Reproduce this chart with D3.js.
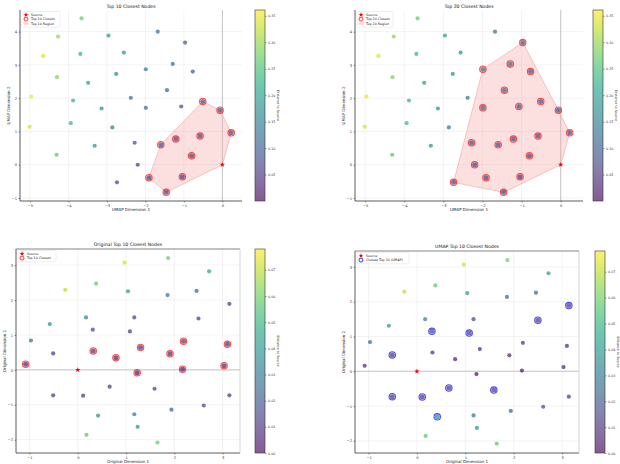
<!DOCTYPE html>
<html>
<head>
<meta charset="utf-8">
<script src="https://cdn.jsdelivr.net/npm/d3@7"></script>
<style>
  body { margin: 0; background: #fff; }
  svg { font-family: "DejaVu Sans", sans-serif; }
</style>
</head>
<body>
<div id="chart"></div>
<script>
// UMAP embedding (top row), source sits at the origin
const umapX = [-3.66,-4.27,-2.96,-1.68,-0.97,-4.66,-3.69,-2.56,-1.29,-1.99,-0.77,-4.30,-2.76,-3.49,-1.44,-4.97,-3.88,-2.38,-3.14,-1.99,-1.07,-0.51,-0.06,-5.01,-3.94,-2.86,0.23,-0.58,-1.21,-1.60,-2.28,-3.32,-4.31,-0.80,-2.20,-1.04,-1.91,-2.74,-1.46];
const umapY = [4.40,3.85,3.88,4.00,3.67,3.27,3.33,3.37,3.03,2.87,2.80,2.63,2.73,2.46,2.24,2.05,1.93,2.01,1.69,1.71,1.75,1.90,1.64,1.14,1.25,1.12,0.96,0.86,0.77,0.60,0.66,0.57,0.30,0.27,0.00,-0.36,-0.39,-0.53,-0.83];
const umapVal = [0.27,0.30,0.20,0.13,0.09,0.34,0.23,0.18,0.12,0.13,0.09,0.29,0.18,0.20,0.12,0.35,0.23,0.13,0.18,0.11,0.08,0.09,0.08,0.34,0.24,0.14,0.08,0.07,0.07,0.08,0.08,0.18,0.26,0.06,0.06,0.05,0.06,0.07,0.06];
const umapTop10 = [21,22,26,27,28,29,33,35,36,38];
const umapTop20 = [21,22,26,27,28,29,33,35,36,38,4,8,9,10,14,19,20,30,34,37];

// original space (bottom row)
const origX = [1.87,0.97,2.72,-0.26,0.38,1.04,1.86,2.46,3.14,-0.58,0.17,1.17,2.50,0.31,1.08,-0.97,2.19,3.10,1.30,0.32,-0.51,1.91,0.79,-1.08,2.17,3.03,1.23,0.66,1.59,-0.51,0.11,3.14,1.94,2.61,0.42,1.17,1.24,0.18,1.65];
const origY = [3.20,3.07,2.82,2.29,2.47,2.25,2.14,2.26,1.89,1.31,1.50,1.50,1.47,1.15,1.10,0.84,0.82,0.73,0.64,0.54,0.47,0.46,0.35,0.16,0.02,0.12,-0.08,-0.48,-0.54,-0.73,-0.74,-0.73,-1.14,-1.02,-1.31,-1.27,-1.63,-1.86,-2.08];
const origVal = [0.060,0.072,0.045,0.070,0.058,0.042,0.026,0.024,0.012,0.040,0.033,0.015,0.012,0.014,0.012,0.026,0.010,0.008,0.008,0.009,0.010,0.007,0.005,0.006,0.004,0.006,0.003,0.012,0.012,0.011,0.010,0.012,0.024,0.015,0.038,0.030,0.040,0.057,0.058];
const origTop10 = [16,17,18,19,21,22,23,24,25,26];
const umapTop10InOrig = [8,12,13,14,20,27,28,29,30,34];

const source = [0, 0];
const umapXTicks = [-5,-4,-3,-2,-1,0], umapYTicks = [-1,0,1,2,3,4];
const origXTicks = [-1,0,1,2,3], origYTicks = [-2,-1,0,1,2,3];
const umapCbarTicks = [0.05,0.10,0.15,0.20,0.25,0.30,0.35];
const origCbarTicks = [0.00,0.01,0.02,0.03,0.04,0.05,0.06,0.07];

const svg = d3.select("#chart").append("svg").attr("width", 620).attr("height", 464);
const defs = svg.append("defs");
let gradId = 0;

function panel(cfg) {
  const x = d3.scaleLinear().domain(cfg.xDom).range([cfg.x0, cfg.x1]);
  const y = d3.scaleLinear().domain(cfg.yDom).range([cfg.y1, cfg.y0]);
  const color = d3.scaleSequential(d3.interpolateViridis).domain(cfg.cDom);
  const g = svg.append("g");

  // grid
  g.append("g").selectAll("line").data(cfg.xTicks).join("line")
    .attr("x1", d => x(d)).attr("x2", d => x(d)).attr("y1", cfg.y0).attr("y2", cfg.y1)
    .attr("stroke", "#ebebeb").attr("stroke-width", 0.6);
  g.append("g").selectAll("line").data(cfg.yTicks).join("line")
    .attr("y1", d => y(d)).attr("y2", d => y(d)).attr("x1", cfg.x0).attr("x2", cfg.x1)
    .attr("stroke", "#ebebeb").attr("stroke-width", 0.6);

  // reference line through the source
  if (cfg.vline) g.append("line").attr("x1", x(0)).attr("x2", x(0)).attr("y1", cfg.y0).attr("y2", cfg.y1)
    .attr("stroke", "#bbb").attr("stroke-width", 0.8);
  if (cfg.hline) g.append("line").attr("y1", y(0)).attr("y2", y(0)).attr("x1", cfg.x0).attr("x2", cfg.x1)
    .attr("stroke", "#bbb").attr("stroke-width", 0.8);

  // hull region
  if (cfg.hull) {
    const pts = cfg.hull.map(i => [x(cfg.xs[i]), y(cfg.ys[i])]);
    pts.push([x(source[0]), y(source[1])]);
    const hull = d3.polygonHull(pts);
    g.append("path").attr("d", "M" + hull.join("L") + "Z")
      .attr("fill", "#f7a6a6").attr("fill-opacity", 0.35)
      .attr("stroke", "#f2b5b5").attr("stroke-width", 0.8);
  }

  // spines
  const ax = g.append("g").attr("stroke-width", 0.8);
  ax.append("line").attr("x1", cfg.x0).attr("x2", cfg.x0).attr("y1", cfg.y0).attr("y2", cfg.y1).attr("stroke", "#333");
  ax.append("line").attr("x1", cfg.x0).attr("x2", cfg.x1).attr("y1", cfg.y1).attr("y2", cfg.y1).attr("stroke", "#333");
  if (cfg.box) {
    ax.append("line").attr("x1", cfg.x0).attr("x2", cfg.x1).attr("y1", cfg.y0).attr("y2", cfg.y0).attr("stroke", "#666");
    ax.append("line").attr("x1", cfg.x1).attr("x2", cfg.x1).attr("y1", cfg.y0).attr("y2", cfg.y1).attr("stroke", "#ccc");
  }

  // ticks
  const xa = d3.axisBottom(x).tickValues(cfg.xTicks).tickSize(1.5).tickPadding(1.5).tickFormat(d3.format("d"));
  const ya = d3.axisLeft(y).tickValues(cfg.yTicks).tickSize(1.5).tickPadding(1.5).tickFormat(d3.format("d"));
  [g.append("g").attr("transform", `translate(0,${cfg.y1})`).call(xa),
   g.append("g").attr("transform", `translate(${cfg.x0},0)`).call(ya)].forEach(a => {
    a.select(".domain").remove();
    a.selectAll("line").attr("stroke", "#333").attr("stroke-width", 0.5);
    a.selectAll("text").attr("font-size", 3.6).attr("fill", "#333").attr("font-family", "DejaVu Sans");
  });

  // points
  const idx = d3.range(cfg.xs.length);
  const ringSet = new Set(cfg.ring);
  g.append("g").selectAll("circle").data(idx).join("circle")
    .attr("cx", i => x(cfg.xs[i])).attr("cy", i => y(cfg.ys[i]))
    .attr("r", i => ringSet.has(i) ? 2.5 : 2.1)
    .attr("fill", i => color(cfg.vals[i])).attr("fill-opacity", 0.7);

  // highlighted rings
  g.append("g").selectAll("circle").data(cfg.ring).join("circle")
    .attr("cx", i => x(cfg.xs[i])).attr("cy", i => y(cfg.ys[i])).attr("r", 3.2)
    .attr("fill", "none").attr("stroke", cfg.ringColor).attr("stroke-width", 1.1).attr("stroke-opacity", 0.7);

  // source star
  g.append("path").attr("d", d3.symbol(d3.symbolStar, 9)())
    .attr("transform", `translate(${x(source[0])},${y(source[1])})`).attr("fill", "red");

  // title and labels
  g.append("text").attr("x", (cfg.x0 + cfg.x1) / 2).attr("y", cfg.titleY).attr("text-anchor", "middle")
    .attr("font-size", 4.6).attr("fill", "#111").text(cfg.title);
  g.append("text").attr("x", (cfg.x0 + cfg.x1) / 2).attr("y", cfg.y1 + 10).attr("text-anchor", "middle")
    .attr("font-size", 4).attr("fill", "#222").text(cfg.xLabel);
  g.append("text").attr("transform", `translate(${cfg.x0 - 10},${(cfg.y0 + cfg.y1) / 2}) rotate(-90)`)
    .attr("text-anchor", "middle").attr("font-size", 4).attr("fill", "#222").text(cfg.yLabel);

  // legend
  const lg = g.append("g").attr("transform", `translate(${cfg.x0 + 2},${cfg.y0 + 1.5})`);
  lg.append("rect").attr("width", cfg.legendW).attr("height", cfg.legend.length * 4.4 + 2.5)
    .attr("rx", 1).attr("fill", "#fff").attr("fill-opacity", 0.85).attr("stroke", "#ddd").attr("stroke-width", 0.5);
  cfg.legend.forEach((e, k) => {
    const cy = 3.2 + k * 4.4;
    if (e.type === "star") lg.append("path").attr("d", d3.symbol(d3.symbolStar, 8)())
      .attr("transform", `translate(4,${cy})`).attr("fill", "red");
    else if (e.type === "ring") lg.append("circle").attr("cx", 4).attr("cy", cy).attr("r", 2)
      .attr("fill", "none").attr("stroke", cfg.ringColor).attr("stroke-width", 0.8);
    else lg.append("rect").attr("x", 1.5).attr("y", cy - 1.3).attr("width", 5).attr("height", 2.6)
      .attr("fill", "#f7a6a6").attr("fill-opacity", 0.45);
    lg.append("text").attr("x", 9).attr("y", cy + 1.2).attr("font-size", 3.3).attr("fill", "#222").text(e.label);
  });

  // colorbar
  const id = "grad" + (gradId++);
  const grad = defs.append("linearGradient").attr("id", id).attr("x1", 0).attr("x2", 0).attr("y1", 1).attr("y2", 0);
  d3.range(0, 1.001, 0.1).forEach(t => grad.append("stop").attr("offset", t)
    .attr("stop-color", d3.interpolateViridis(t)).attr("stop-opacity", 0.65));
  const cy = d3.scaleLinear().domain(cfg.cDom).range([cfg.y1, cfg.y0]);
  g.append("rect").attr("x", cfg.cbX).attr("y", cfg.y0).attr("width", 10).attr("height", cfg.y1 - cfg.y0)
    .attr("fill", `url(#${id})`).attr("stroke", "#333").attr("stroke-width", 0.6);
  const ca = g.append("g").attr("transform", `translate(${cfg.cbX + 10},0)`)
    .call(d3.axisRight(cy).tickValues(cfg.cTicks).tickSize(1.5).tickPadding(1.5).tickFormat(d3.format(".2f")));
  ca.select(".domain").remove();
  ca.selectAll("line").attr("stroke", "#333").attr("stroke-width", 0.5);
  ca.selectAll("text").attr("font-size", 3.3).attr("fill", "#333").attr("font-family", "DejaVu Sans");
  g.append("text").attr("transform", `translate(${cfg.cbX + 22},${(cfg.y0 + cfg.y1) / 2}) rotate(90)`)
    .attr("text-anchor", "middle").attr("font-size", 3.3).attr("fill", "#222").text(cfg.cLabel);
}

panel({ title: "Top 10 Closest Nodes", titleY: 7.5, x0: 20, x1: 242, y0: 10, y1: 201,
  xDom: [-5.26, 0.51], yDom: [-1.09, 4.65], xs: umapX, ys: umapY, vals: umapVal,
  xTicks: umapXTicks, yTicks: umapYTicks, hull: umapTop10, ring: umapTop10, ringColor: "red", vline: true,
  xLabel: "UMAP Dimension 1", yLabel: "UMAP Dimension 2",
  legend: [{type: "star", label: "Source"}, {type: "ring", label: "Top 10 Closest"}, {type: "patch", label: "Top 10 Region"}], legendW: 38,
  cDom: [0, 0.361], cTicks: umapCbarTicks, cbX: 255, cLabel: "Distance to Source" });

panel({ title: "Top 20 Closest Nodes", titleY: 7.5, x0: 355, x1: 583, y0: 10, y1: 201,
  xDom: [-5.26, 0.57], yDom: [-1.09, 4.65], xs: umapX, ys: umapY, vals: umapVal,
  xTicks: umapXTicks, yTicks: umapYTicks, hull: umapTop20, ring: umapTop20, ringColor: "red", vline: true,
  xLabel: "UMAP Dimension 1", yLabel: "UMAP Dimension 2",
  legend: [{type: "star", label: "Source"}, {type: "ring", label: "Top 20 Closest"}, {type: "patch", label: "Top 20 Region"}], legendW: 36,
  cDom: [0, 0.361], cTicks: umapCbarTicks, cbX: 593, cLabel: "Distance to Source" });

panel({ title: "Original Top 10 Closest Nodes", titleY: 246, x0: 16, x1: 240, y0: 249, y1: 453,
  xDom: [-1.28, 3.36], yDom: [-2.38, 3.46], xs: origX, ys: origY, vals: origVal,
  xTicks: origXTicks, yTicks: origYTicks, ring: origTop10, ringColor: "red", hline: true, box: true,
  xLabel: "Original Dimension 1", yLabel: "Original Dimension 2",
  legend: [{type: "star", label: "Source"}, {type: "ring", label: "Top 10 Closest"}], legendW: 38,
  cDom: [0, 0.078], cTicks: origCbarTicks, cbX: 255, cLabel: "Distance to Source" });

panel({ title: "UMAP Top 10 Closest Nodes", titleY: 248, x0: 355, x1: 579, y0: 251, y1: 453,
  xDom: [-1.28, 3.35], yDom: [-2.35, 3.46], xs: origX, ys: origY, vals: origVal,
  xTicks: origXTicks, yTicks: origYTicks, ring: umapTop10InOrig, ringColor: "blue", hline: true, box: true,
  xLabel: "Original Dimension 1", yLabel: "Original Dimension 2",
  legend: [{type: "star", label: "Source"}, {type: "ring", label: "Closest Top 10 (UMAP)"}], legendW: 52,
  cDom: [0, 0.078], cTicks: origCbarTicks, cbX: 595, cLabel: "Distance to Source" });
</script>
</body>
</html>
